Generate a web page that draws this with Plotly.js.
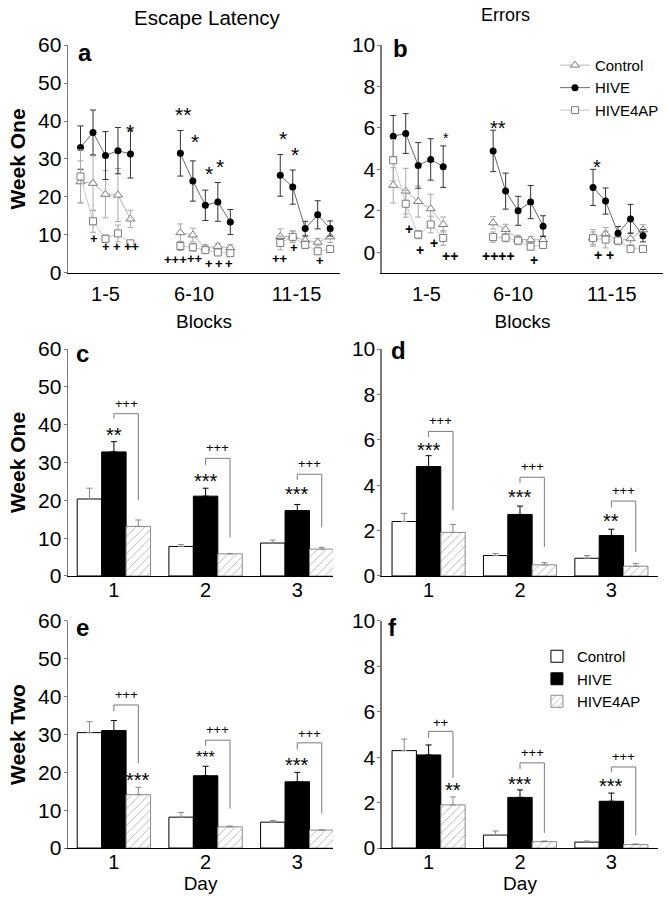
<!DOCTYPE html>
<html><head><meta charset="utf-8">
<script src="https://cdn.plot.ly/plotly-3.0.1.min.js"></script>
<style>html,body{margin:0;padding:0;background:#fff;}#chart{width:667px;height:897px;}</style>
</head><body><div id="chart"></div>
<script>
const FONT = 'Liberation Sans, Arial, Helvetica, sans-serif';
const groupNames = ['Control', 'HIVE', 'HIVE4AP'];

// ---- panels a & b: 15 trial blocks, in three sets of five ----
const blocks = [1,2,3,4,5,6,7,8,9,10,11,12,13,14,15];
const blockLabels = ['1-5', '6-10', '11-15'];

const latControl    = [24.0, 23.6, 20.7, 20.5, 14.2, 10.6, 10.0, 6.6, 7.0, 6.6, 9.6, 9.6, 8.6, 8.1, 9.5];
const latControlErr = [5.5, 7.2, 6.2, 7.0, 2.3, 2.3, 1.8, 0.8, 0.8, 0.8, 2.0, 1.5, 1.0, 1.0, 1.5];
const latHive       = [33.0, 37.0, 30.9, 32.2, 31.3, 31.5, 24.2, 17.8, 18.7, 13.4, 25.7, 22.6, 11.7, 15.3, 11.7];
const latHiveErr    = [5.7, 5.9, 6.3, 6.1, 6.3, 6.0, 5.3, 4.0, 5.1, 3.3, 5.5, 4.5, 1.9, 3.7, 2.0];
const latH4ap       = [25.4, 13.6, 9.0, 10.4, 7.8, 7.1, 6.75, 6.0, 5.4, 5.2, 7.9, 9.5, 7.4, 5.7, 6.3];
const latH4apErr    = [7.0, 2.9, 1.0, 2.2, 0.5, 1.2, 1.0, 0.6, 0.6, 0.5, 1.8, 1.5, 1.0, 0.8, 0.5];

const errControl    = [3.23, 2.95, 2.45, 2.1, 1.34, 1.42, 1.1, 0.62, 0.6, 0.6, 0.69, 0.89, 0.56, 0.65, 1.08];
const errControlErr = [0.85, 1.1, 0.75, 0.7, 0.36, 0.3, 0.25, 0.2, 0.15, 0.2, 0.4, 0.3, 0.2, 0.3, 0.25];
const errHive       = [5.6, 5.73, 4.19, 4.48, 4.13, 4.89, 2.95, 2.0, 2.42, 1.26, 3.13, 2.47, 0.92, 1.61, 0.8];
const errHiveErr    = [1.0, 0.96, 1.1, 1.0, 1.0, 1.0, 0.87, 0.7, 0.8, 0.5, 0.87, 0.63, 0.32, 0.7, 0.3];
const errH4ap       = [4.44, 2.34, 0.85, 1.34, 0.69, 0.73, 0.7, 0.56, 0.27, 0.35, 0.68, 0.61, 0.56, 0.16, 0.16];
const errH4apErr    = [1.0, 0.65, 0.2, 0.4, 0.35, 0.25, 0.2, 0.2, 0.15, 0.15, 0.3, 0.4, 0.15, 0.05, 0.05];

// ---- panels c-f: three days ----
const days = [1, 2, 3];
const dayLabels = ['1', '2', '3'];

const w1LatControl = [20.35, 7.8, 8.7],  w1LatControlErr = [2.85, 0.5, 0.8];
const w1LatHive    = [32.8, 21.1, 17.3], w1LatHiveErr    = [2.7, 2.1, 1.6];
const w1LatH4ap    = [13.1, 5.85, 7.1],  w1LatH4apErr    = [1.7, 0.1, 0.5];

const w1ErrControl = [2.40, 0.90, 0.78], w1ErrControlErr = [0.36, 0.09, 0.12];
const w1ErrHive    = [4.82, 2.71, 1.78], w1ErrHiveErr    = [0.48, 0.37, 0.28];
const w1ErrH4ap    = [1.92, 0.49, 0.43], w1ErrH4apErr    = [0.35, 0.10, 0.12];

const w2LatControl = [30.5, 8.16, 6.84], w2LatControlErr = [2.9, 1.24, 0.46];
const w2LatHive    = [31.05, 19.1, 17.5], w2LatHiveErr   = [2.65, 2.5, 2.5];
const w2LatH4ap    = [14.1, 5.6, 4.74],  w2LatH4apErr    = [1.95, 0.2, 0.0];

const w2ErrControl = [4.29, 0.57, 0.26], w2ErrControlErr = [0.51, 0.18, 0.05];
const w2ErrHive    = [4.10, 2.23, 2.06], w2ErrHiveErr    = [0.44, 0.33, 0.36];
const w2ErrH4ap    = [1.90, 0.28, 0.15], w2ErrH4apErr    = [0.35, 0.03, 0.03];

// significance labels (panels a, b): [text, x position on block axis, y level]
const sigA = [['*',4.96,38.5],['**',9.2,43],['*',10.2,35.9],['*',11.3,27.6],['*',12.2,29.3],['*',17.2,36.8],['*',18.2,32.4]];
const plusA = [['+',2.1,9.2],['+',3.04,7],['+',3.9,7],['++',5.1,7],['+++',8.64,3.5],['++',10.2,3.9],['+',11.3,2.4],['+',12.1,2.4],['+',12.9,2.4],['++',17.0,3.9],['+',18.1,6.6],['+',20.2,3.3]];
const sigB = [['*',5.24,5.7,14],['**',9.4,6.2,20],['*',17.3,4.3,20]];
const plusB = [['+',2.28,1.1],['+',3.12,0.12],['+',4.28,0.46],['++',5.56,-0.16],['++++',9.4,-0.19],['+',12.28,-0.37],['+ +',17.88,-0.15]];

// significance for bar panels
const barSig = {
  c: {stars:['**','***','***'], starOn:[1,1,1], starY:[38.7,26.4,22.9], starSize:[20,20,20],
      top:[42.9,31.1,26.9], left:[41.6,29.4,25.4], right:[20.0,10.2,12.8], plus:['+++','+++','+++'], plusY:[45.6,34.0,29.8]},
  d: {stars:['***','***','**'], starOn:[1,1,1], starY:[5.78,3.72,2.64], starSize:[20,20,20],
      top:[6.37,4.35,3.30], left:[6.12,4.09,3.02], right:[2.9,1.28,1.06], plus:['+++','+++','+++'], plusY:[6.86,4.82,3.76]},
  e: {stars:['***','***','***'], starOn:[2,1,1], starY:[19.3,25.2,23.3], starSize:[20,16,20],
      top:[37.8,28.5,27.8], left:[36.1,27.0,26.0], right:[22.4,10.4,9.1], plus:['+++','+++','+++'], plusY:[40.5,31.3,30.2]},
  f: {stars:['**','***','***'], starOn:[2,1,1], starY:[2.78,3.06,2.96], starSize:[20,20,20],
      top:[5.14,3.75,3.57], left:[4.85,3.48,3.34], right:[3.09,0.67,0.57], plus:['++','+++','+++'], plusY:[5.55,4.19,4.01]}
};

// ---------- build ----------
const blockPos = b => b + 3 * Math.floor((b - 1) / 5);
function splitSets(vals) {
  const out = [];
  vals.forEach((v, i) => { out.push(v); if (i % 5 === 4 && i < vals.length - 1) out.push(null); });
  return out;
}
const xPos = splitSets(blocks.map(blockPos));

const lineStyles = [
  {symbol:'triangle-up', size:8, color:'#fff', line:{color:'#7a7a7a', width:1}, lc:'#b5b5b5', ec:'#a8a8a8'},
  {symbol:'circle', size:7, color:'#000', line:{color:'#000', width:0}, lc:'#6a6a6a', ec:'#333'},
  {symbol:'square', size:7, color:'#fff', line:{color:'#7a7a7a', width:1}, lc:'#c8c8c8', ec:'#a8a8a8'}
];
function lineTrace(k, vals, errs, xa, ya, show) {
  const s = lineStyles[k];
  return {
    type:'scatter', mode:'lines+markers', name: groupNames[k], x: xPos, y: splitSets(vals),
    xaxis: xa, yaxis: ya, connectgaps:false, showlegend: show, legend:'legend', legendgroup:'L'+k,
    line:{color:s.lc, width:1},
    marker:{symbol:s.symbol, size:s.size, color:s.color, line:s.line},
    error_y:{type:'data', array: splitSets(errs), visible:true, color:s.ec, thickness:1, width:3}
  };
}

const barStyles = [
  {marker:{color:'#fff', line:{color:'#000', width:1}}, ec:'#888'},
  {marker:{color:'#000', line:{color:'#000', width:1}}, ec:'#000'},
  {marker:{color:'#fff', line:{color:'#8a8a8a', width:1},
           pattern:{shape:'/', fgcolor:'#9a9a9a', bgcolor:'#fff', size:6, solidity:0.12}}, ec:'#888'}
];
function barTrace(k, vals, errs, xa, ya, show) {
  const s = barStyles[k];
  return {
    type:'bar', name: groupNames[k], x: days, y: vals, xaxis: xa, yaxis: ya,
    showlegend: show, legend:'legend2', legendgroup:'B'+k, marker: s.marker,
    error_y:{type:'data', symmetric:false, array: errs, arrayminus: errs.map(() => 0),
             color: s.ec, thickness:1, width:3}
  };
}

const data = [
  lineTrace(0, latControl, latControlErr, 'x', 'y', false),
  lineTrace(1, latHive, latHiveErr, 'x', 'y', false),
  lineTrace(2, latH4ap, latH4apErr, 'x', 'y', false),
  lineTrace(0, errControl, errControlErr, 'x2', 'y2', true),
  lineTrace(1, errHive, errHiveErr, 'x2', 'y2', true),
  lineTrace(2, errH4ap, errH4apErr, 'x2', 'y2', true),
  barTrace(0, w1LatControl, w1LatControlErr, 'x3', 'y3', false),
  barTrace(1, w1LatHive, w1LatHiveErr, 'x3', 'y3', false),
  barTrace(2, w1LatH4ap, w1LatH4apErr, 'x3', 'y3', false),
  barTrace(0, w1ErrControl, w1ErrControlErr, 'x4', 'y4', false),
  barTrace(1, w1ErrHive, w1ErrHiveErr, 'x4', 'y4', false),
  barTrace(2, w1ErrH4ap, w1ErrH4apErr, 'x4', 'y4', false),
  barTrace(0, w2LatControl, w2LatControlErr, 'x5', 'y5', false),
  barTrace(1, w2LatHive, w2LatHiveErr, 'x5', 'y5', false),
  barTrace(2, w2LatH4ap, w2LatH4apErr, 'x5', 'y5', false),
  barTrace(0, w2ErrControl, w2ErrControlErr, 'x6', 'y6', true),
  barTrace(1, w2ErrHive, w2ErrHiveErr, 'x6', 'y6', true),
  barTrace(2, w2ErrH4ap, w2ErrH4apErr, 'x6', 'y6', true)
];

// axes
const colL = [0.102, 0.510], colR = [0.5727, 0.994];
const colLb = [0.102, 0.4993], colRb = [0.5727, 0.9865];
const rowTop = [0.6957, 0.9498], rowMid = [0.3579, 0.6109], rowBot = [0.0546, 0.3077];
function xAx(domain, range, tickvals, ticktext, anchor, title, labelShift, standoff) {
  const ax = {domain, range, anchor, tickmode:'array', tickvals, ticktext, showline:true, linecolor:'#000', linewidth:1,
    ticks:'', ticklabelstandoff: labelShift, tickfont:{size:20, color:'#000'},
    showgrid:false, zeroline:false, fixedrange:true};
  if (title) ax.title = {text:title, font:{size:19, color:'#000'}, standoff};
  return ax;
}
function yAx(domain, range, tickvals, anchor, title) {
  const ax = {domain, range, anchor, tickmode:'array', tickvals, showline:true, linecolor:'#7a7a7a', linewidth:1.5,
    ticks:'outside', ticklen:3, tickcolor:'#7a7a7a', tickfont:{size:21, color:'#000'}, ticklabelstandoff:-2,
    showgrid:false, zeroline:false, fixedrange:true};
  if (title) ax.title = {text:title, font:{size:21, color:'#000', weight:'bold'}, standoff:6};
  return ax;
}
const t60 = [0,10,20,30,40,50,60], t10 = [0,2,4,6,8,10];

const annotations = [];
const shapes = [];
function note(text, x, y, xref, yref, size, extra) {
  annotations.push(Object.assign({text, x, y, xref, yref, showarrow:false, xanchor:'center', yanchor:'middle',
    font:{size, color:'#000', family:FONT}}, extra || {}));
}
// column headers & panel letters
note('Escape Latency', 0.311, 0.981, 'paper', 'paper', 20.5);
note('Errors', 0.758, 0.983, 'paper', 'paper', 18);
[['a',0.127,0.942],['b',0.600,0.946],['c',0.124,0.606],['d',0.597,0.609],['e',0.124,0.301],['f',0.588,0.301]]
  .forEach(([t,x,y]) => note(t, x, y, 'paper', 'paper', 24, {font:{size:24, color:'#000', family:FONT, weight:'bold'}}));

sigA.forEach(([t,x,y]) => note(t, x, y, 'x', 'y', 21, {yshift:-5}));
plusA.forEach(([t,x,y]) => note(t, x, y, 'x', 'y', 13, {font:{size:13, color:'#000', family:FONT, weight:'bold'}}));
sigB.forEach(([t,x,y,s]) => note(t, x, y, 'x2', 'y2', s, {yshift:-4}));
plusB.forEach(([t,x,y]) => note(t, x, y, 'x2', 'y2', 14, {font:{size:14, color:'#000', family:FONT, weight:'bold'}}));

const barW = 0.8 / 3;
[['c','x3','y3'],['d','x4','y4'],['e','x5','y5'],['f','x6','y6']].forEach(([p,xa,ya]) => {
  const s = barSig[p];
  days.forEach((d, i) => {
    const xl = d, xr = d + barW;
    shapes.push({type:'path', xref:xa, yref:ya,
      path:`M ${xl},${s.left[i]} L ${xl},${s.top[i]} L ${xr},${s.top[i]} L ${xr},${s.right[i]}`,
      line:{color:'#7a7a7a', width:1}});
    note(s.plus[i], (xl + xr) / 2, s.plusY[i], xa, ya, 13);
    note(s.stars[i], d + (s.starOn[i] - 1) * barW, s.starY[i], xa, ya, s.starSize[i], {yshift:-5});
  });
});

const layout = {
  width:667, height:897, margin:{l:0, r:0, t:0, b:0},
  paper_bgcolor:'#fff', plot_bgcolor:'#fff',
  font:{family:FONT, color:'#000'},
  barmode:'group', bargap:0.2, bargroupgap:0,
  xaxis: xAx(colL, [0, 21.8], [3, 10.1, 18.3], blockLabels, 'y', 'Blocks', 3, 10),
  yaxis: yAx(rowTop, [0, 60], t60, 'x', 'Week One'),
  xaxis2: xAx(colR, [0.1, 22.6], [3.65, 10.6, 18.5], blockLabels, 'y2', 'Blocks', 3, 10),
  yaxis2: yAx(rowTop, [-1, 10], t10, 'x2', null),
  xaxis3: xAx(colLb, [0.5, 3.39], days, dayLabels, 'y3', null, -4, 0),
  yaxis3: yAx(rowMid, [0, 60], t60, 'x3', 'Week One'),
  xaxis4: xAx(colRb, [0.49, 3.51], days, dayLabels, 'y4', null, -4, 0),
  yaxis4: yAx(rowMid, [0, 10], t10, 'x4', null),
  xaxis5: xAx(colLb, [0.5, 3.39], days, dayLabels, 'y5', 'Day', -4, 4),
  yaxis5: yAx(rowBot, [0, 60], t60, 'x5', 'Week Two'),
  xaxis6: xAx(colRb, [0.49, 3.51], days, dayLabels, 'y6', 'Day', -4, 2),
  yaxis6: yAx(rowBot, [0, 10], t10, 'x6', null),
  legend:{x:0.832, y:0.9455, xanchor:'left', yanchor:'top', bgcolor:'rgba(0,0,0,0)', font:{size:15}, itemwidth:30, tracegroupgap:0},
  legend2:{x:0.805, y:0.2865, xanchor:'left', yanchor:'top', bgcolor:'rgba(0,0,0,0)', font:{size:15}, itemwidth:30, tracegroupgap:0},
  annotations, shapes
};

Plotly.newPlot('chart', data, layout, {displayModeBar:false, staticPlot:true});
</script>
</body></html>
